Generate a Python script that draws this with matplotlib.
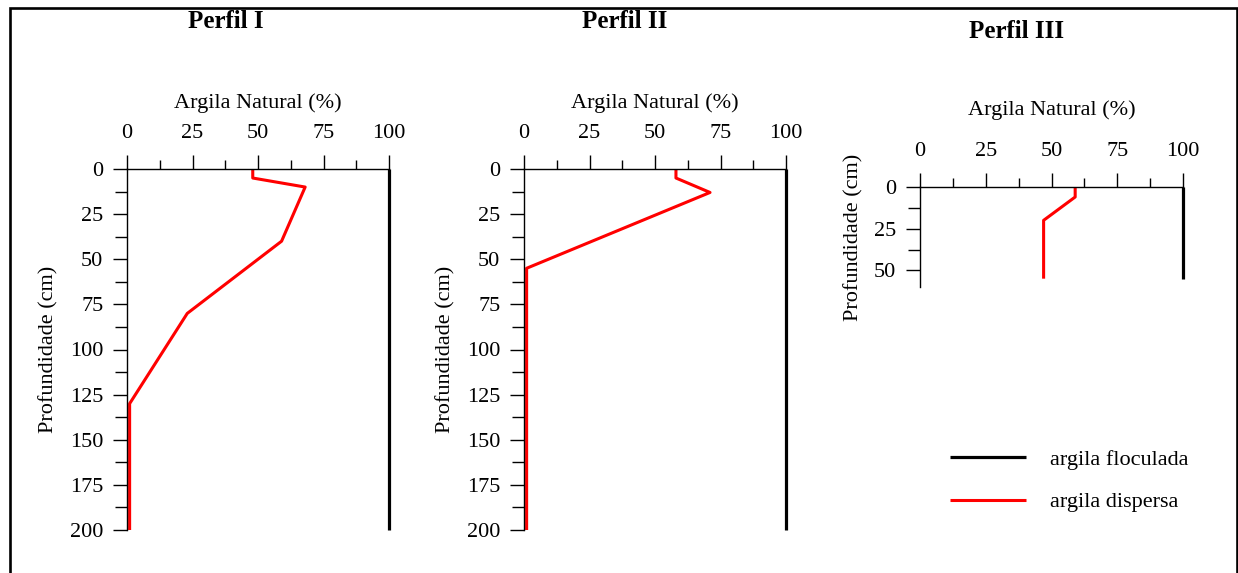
import matplotlib
matplotlib.use('Agg')
import matplotlib.pyplot as plt
from matplotlib.ticker import MultipleLocator
from matplotlib.patches import Rectangle

plt.rcParams['font.family'] = ['Liberation Serif', 'DejaVu Serif']
plt.rcParams['font.size'] = 16

# data: depth (cm) and natural clay (%)
depth_1 = [0, 5, 10, 40, 80, 130, 200]
disp_1 = [48, 48, 68, 59, 23, 1, 1]

depth_2 = [0, 5, 13, 55, 200]
disp_2 = [58, 58, 71, 1, 1]

depth_3 = [0, 6, 20, 55]
disp_3 = [59, 59, 47, 47]

floc = 100  # argila floculada

titles = ['Perfil I', 'Perfil II', 'Perfil III']
x_ticks = [0, 25, 50, 75, 100]

W, H = 1238, 573
fig = plt.figure(figsize=(W / 100, H / 100), dpi=100)

# outer frame
fig.patches.append(Rectangle((10 / W, -0.05), 1227 / W, 1.05 - 8 / H,
                             transform=fig.transFigure, fill=False,
                             lw=1.9, ec='black', clip_on=False))


def make_axes(rect, ymax, yticks):
    ax = fig.add_axes(rect)
    ax.set_xlim(0, 100)
    ax.set_ylim(ymax, 0)
    ax.xaxis.tick_top()
    ax.xaxis.set_label_position('top')
    ax.spines['right'].set_visible(False)
    ax.spines['bottom'].set_visible(False)
    for s in ['top', 'left']:
        ax.spines[s].set_linewidth(1.0)
    ax.set_xticks(x_ticks)
    ax.set_yticks(yticks)
    ax.xaxis.set_minor_locator(MultipleLocator(12.5))
    ax.yaxis.set_minor_locator(MultipleLocator(12.5))
    ax.tick_params(axis='x', which='major', length=10, width=1, pad=9, labelsize=16)
    ax.tick_params(axis='x', which='minor', length=6.5, width=1)
    ax.tick_params(axis='y', which='major', length=10, width=1, pad=7, labelsize=16)
    ax.tick_params(axis='y', which='minor', length=8.6, width=1)
    ax.set_xlabel('Argila Natural (%)', fontsize=16, labelpad=11)
    ax.set_ylabel('Profundidade (cm)', fontsize=16, labelpad=8)
    return ax


ax1 = make_axes([127 / W, 43 / H, 262 / W, 361 / H], 200, range(0, 201, 25))
ax2 = make_axes([524 / W, 43 / H, 262 / W, 361 / H], 200, range(0, 201, 25))
ax3 = make_axes([920 / W, 286 / H, 263 / W, 100 / H], 60, [0, 25, 50])
ax3.xaxis.labelpad = 19

for ax, d, v in [(ax1, depth_1, disp_1), (ax2, depth_2, disp_2), (ax3, depth_3, disp_3)]:
    ax.plot([floc] * 2, [0, max(d)], color='black', lw=2.3, clip_on=False,
            label='argila floculada', solid_capstyle='butt')
    ax.plot(v, d, color='red', lw=2.2, clip_on=False, label='argila dispersa',
            solid_capstyle='butt')

for t, x, y in zip(titles, [226, 625, 1017], [22, 22, 31]):
    fig.text(x / W, 1 - y / H, t, ha='center', va='center', fontsize=18,
             fontweight='bold')

h, l = ax3.get_legend_handles_labels()
fig.legend(h, l, loc='upper left', bbox_to_anchor=(950 / W, 1 - 449 / H),
           frameon=False, handlelength=3.4, handletextpad=1.1,
           labelspacing=1.0, borderpad=0, borderaxespad=0, fontsize=16)

fig.savefig('out.png', dpi=100)
